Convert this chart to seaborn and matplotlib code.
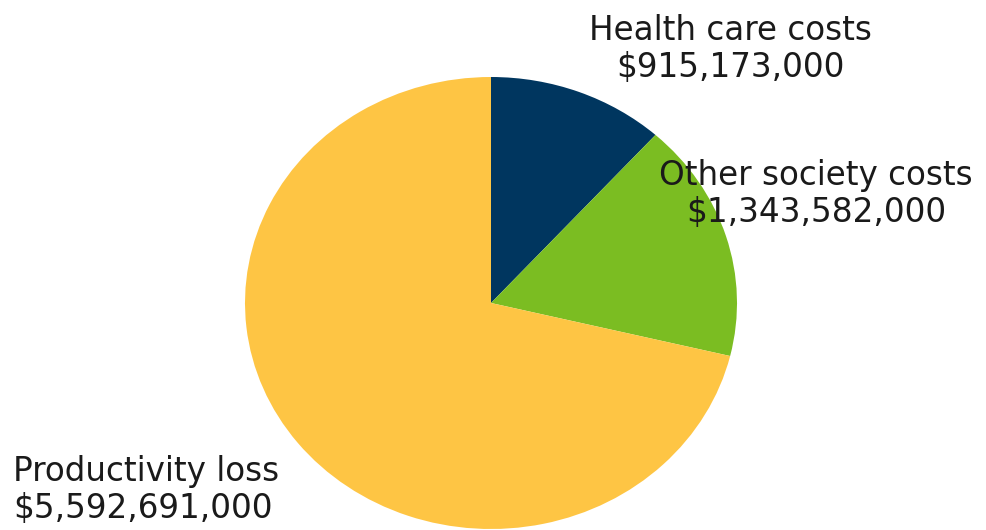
import matplotlib
matplotlib.use("Agg")
import matplotlib.pyplot as plt
import seaborn as sns

# Data
categories = ["Health care costs", "Other society costs", "Productivity loss"]
values = [915173000, 1343582000, 5592691000]
value_labels = ["$915,173,000", "$1,343,582,000", "$5,592,691,000"]
colors = ["#00365F", "#7BBD22", "#FEC544"]

sns.set_theme(style="white")
plt.rcParams['font.family'] = ['DejaVu Sans']

W, H = 987, 530
fig = plt.figure(figsize=(W / 100, H / 100), dpi=100)
fig.patch.set_facecolor("white")

# Pie (slightly elliptical, as in reference)
cx, cy, rx, ry = 491, 303, 246, 226
ax = fig.add_axes([(cx - rx) / W, (H - cy - ry) / H, 2 * rx / W, 2 * ry / H])
ax.pie(values, colors=colors, startangle=90, counterclock=False,
       wedgeprops=dict(linewidth=0))
ax.set_aspect("auto")
ax.set_xlim(-1, 1)
ax.set_ylim(-1, 1)
ax.axis("off")

fs = 23.5
txtcol = "#1a1a1a"
# label placements (pixel coords: x, first baseline, alignment)
places = [(730, 40, "center"), (816, 185, "center"), (13, 481, "left")]
gap = 37
for (x, yb, ha), cat, lab in zip(places, categories, value_labels):
    fig.text(x / W, 1 - yb / H, cat, ha=ha, va="baseline", fontsize=fs, color=txtcol)
    fig.text(x / W, 1 - (yb + gap) / H, lab, ha=ha, va="baseline", fontsize=fs, color=txtcol)

fig.savefig("out.png", dpi=100, facecolor="white")
